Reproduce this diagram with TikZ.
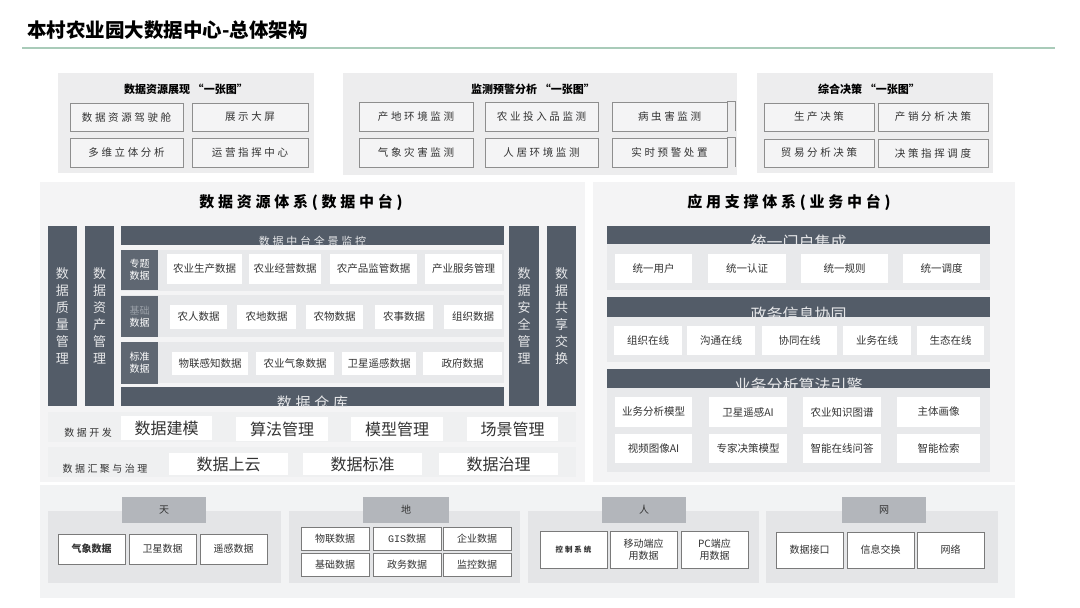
\documentclass[tikz,border=0pt]{standalone}
\usepackage{fontspec}
\setmainfont{Noto Sans CJK SC}
\newfontfamily\spaced{Noto Sans CJK SC}[LetterSpace=25]
\newfontfamily\gisfont{Liberation Mono}
\usetikzlibrary{positioning}

\definecolor{paneltop}{HTML}{EDEDEE}
\definecolor{panelmid}{HTML}{F4F4F5}
\definecolor{rowgrey}{HTML}{E8E9EB}
\definecolor{slate}{HTML}{535C68}
\definecolor{tagdark}{HTML}{5F6772}
\definecolor{edgegrey}{HTML}{8E8E8E}
\definecolor{srcedge}{HTML}{7A7A7A}
\definecolor{tabgrey}{HTML}{B3B6BB}
\definecolor{subgrey}{HTML}{E4E5E7}
\definecolor{basegrey}{HTML}{F2F3F4}
\definecolor{textdark}{HTML}{333333}
\definecolor{bartext}{HTML}{E6E7E9}
\definecolor{tagfade}{HTML}{9AA0A8}
\definecolor{rulegreen}{HTML}{A9CBB9}

\begin{document}
\begin{tikzpicture}[
    x=1pt, y=-1pt,
    outline/.style={draw=edgegrey, line width=0.8pt, fill=paneltop!60!white, inner sep=0, text=textdark, font=\spaced\fontsize{10.5}{12}\selectfont},
    cell/.style={fill=white, draw=none, inner sep=0, text=textdark, align=center, font=\fontsize{10.5}{12}\selectfont},
    bigcell/.style={cell, font=\fontsize{16}{18}\selectfont},
    darkbar/.style={fill=slate, draw=none, inner sep=0},
    tag/.style={fill=tagdark, text=white, inner sep=0, align=center, font=\fontsize{10}{12}\selectfont},
    pillar/.style={fill=slate, text=bartext, inner sep=0, align=center, font=\fontsize{13}{17}\selectfont},
    tab/.style={fill=tabgrey, inner sep=0, text=textdark, font=\fontsize{10}{12}\selectfont},
    source/.style={fill=white, draw=srcedge, line width=0.8pt, inner sep=0, align=center, text=textdark, font=\fontsize{10}{12}\selectfont},
    heading/.style={inner sep=0, text=black, font=\bfseries\fontsize{11}{13}\selectfont},
    subtitle/.style={inner sep=0, text=black, font=\spaced\bfseries\fontsize{15}{18}\selectfont},
    bartitle/.style={inner sep=0, text=bartext, font=\fontsize{16}{18}\selectfont},
    rowlabel/.style={inner sep=0, text=textdark, font=\spaced\fontsize{10}{12}\selectfont}
]
\useasboundingbox (0,0) rectangle (1080,608);
\fill[white] (0,0) rectangle (1080,608);

% title
\node[anchor=west, inner sep=0, font=\bfseries\fontsize{19.5}{22}\selectfont] (maintitle) at (27,30) {本村农业园大数据中心-总体架构};
\draw[rulegreen, line width=1.2pt] (22,48) -- (1055,48);

% top row: three "one map" panels
\fill[paneltop] (58,73) rectangle (314,173);
\node[heading] (showtitle) at (186,89) {数据资源展现 “一张图”};
\node[outline, minimum width=113, minimum height=28] (cockpit) at (126.5,117) {数据资源驾驶舱};
\node[outline, minimum width=116, minimum height=28] (bigscreen) at (250,117) {展示大屏};
\node[outline, minimum width=113, minimum height=29] (multidim) at (126.5,152.5) {多维立体分析};
\node[outline, minimum width=116, minimum height=29] (command) at (250,152.5) {运营指挥中心};

\fill[paneltop] (343,73) rectangle (737,175);
\node[heading] (monitortitle) at (533,89) {监测预警分析 “一张图”};
\node[outline, minimum width=114, minimum height=29] (origin) at (416,116.5) {产地环境监测};
\node[outline, minimum width=113, minimum height=29] (inputs) at (541.5,116.5) {农业投入品监测};
\node[outline, minimum width=115, minimum height=29] (pests) at (669.5,116.5) {病虫害监测};
\node[outline, minimum width=114, minimum height=29] (weather) at (416,152.5) {气象灾害监测};
\node[outline, minimum width=113, minimum height=29] (living) at (541.5,152.5) {人居环境监测};
\node[outline, minimum width=115, minimum height=29] (alarm) at (669.5,152.5) {实时预警处置};
\draw[edgegrey, line width=0.8pt] (pests.north east) -- ++(8,0) -- ++(0,29);
\draw[edgegrey, line width=0.8pt] (alarm.north east) -- ++(8,0) -- ++(0,29);

\fill[paneltop] (757,73) rectangle (993,173);
\node[heading] (decisiontitle) at (869,89) {综合决策 “一张图”};
\node[outline, minimum width=110, minimum height=28] (produce) at (819,117) {生产决策};
\node[outline, minimum width=110, minimum height=28] (sales) at (933,117) {产销分析决策};
\node[outline, minimum width=110, minimum height=28] (trade) at (819,153) {贸易分析决策};
\node[outline, minimum width=110, minimum height=28] (dispatch) at (933,153) {决策指挥调度};

% data middle platform
\fill[panelmid] (40,182) rectangle (585,482);
\node[subtitle] (datatitle) at (301,202) {数据资源体系(数据中台)};
\node[pillar, minimum width=29, minimum height=180] (quality) at (62.5,316) {数\\据\\质\\量\\管\\理};
\node[pillar, minimum width=29, minimum height=180] (assets) at (99.5,316) {数\\据\\资\\产\\管\\理};
\node[pillar, minimum width=30, minimum height=180] (security) at (524,316) {数\\据\\安\\全\\管\\理};
\node[pillar, minimum width=29, minimum height=180] (sharing) at (561.5,316) {数\\据\\共\\享\\交\\换};

\node[darkbar, minimum width=383, minimum height=19] (overview) at (312.5,235.5) {};
\begin{scope}
  \clip (overview.south west) rectangle (overview.north east);
  \node[bartitle, font=\spaced\fontsize{11}{13}\selectfont] (overviewtext) at (312.5,241) {数据中台全景监控};
\end{scope}

\fill[rowgrey] (121,250) rectangle (504,291);
\node[tag, minimum width=37, minimum height=40] (topic) at (139.5,270) {专题\\数据};
\node[cell, minimum width=75, minimum height=30] (agriprod) at (204.5,269) {农业生产数据};
\node[cell, minimum width=72, minimum height=30] (agrimgmt) at (285,269) {农业经营数据};
\node[cell, minimum width=87, minimum height=30] (agrisuper) at (373.5,269) {农产品监管数据};
\node[cell, minimum width=77, minimum height=30] (service) at (463.5,269) {产业服务管理};

\fill[rowgrey] (121,295) rectangle (504,337);
\node[tag, minimum width=37, minimum height=41] (basic) at (139.5,316.5) {{\color{tagfade}基础}\\数据};
\node[cell, minimum width=57, minimum height=24] (farmer) at (198.5,317) {农人数据};
\node[cell, minimum width=59, minimum height=24] (land) at (266.5,317) {农地数据};
\node[cell, minimum width=57, minimum height=24] (crop) at (334.5,317) {农物数据};
\node[cell, minimum width=58, minimum height=24] (farming) at (404,317) {农事数据};
\node[cell, minimum width=58, minimum height=24] (organ) at (473,317) {组织数据};

\fill[rowgrey] (121,342) rectangle (504,383);
\node[tag, minimum width=37, minimum height=42] (standard) at (139.5,363) {标准\\数据};
\node[cell, minimum width=76, minimum height=23] (iot) at (210,363.5) {物联感知数据};
\node[cell, minimum width=78, minimum height=23] (agriwx) at (295,363.5) {农业气象数据};
\node[cell, minimum width=74, minimum height=23] (satellite) at (379,363.5) {卫星遥感数据};
\node[cell, minimum width=79, minimum height=23] (gov) at (462.5,363.5) {政府数据};

\node[darkbar, minimum width=383, minimum height=19] (warehouse) at (312.5,396.5) {};
\begin{scope}
  \clip (warehouse.south west) rectangle (warehouse.north east);
  \node[bartitle, font=\spaced\fontsize{15}{18}\selectfont] (warehousetext) at (312.5,403) {数据仓库};
\end{scope}

\fill[rowgrey!70!white] (48,412) rectangle (576,442);
\node[rowlabel] (devlabel) at (88,433) {数据开发};
\node[bigcell, minimum width=91, minimum height=24] (modeling) at (166.5,428) {数据建模};
\node[bigcell, minimum width=92, minimum height=24] (algo) at (282,429) {算法管理};
\node[bigcell, minimum width=92, minimum height=24] (models) at (397,429) {模型管理};
\node[bigcell, minimum width=91, minimum height=24] (scenes) at (512.5,429) {场景管理};

\fill[rowgrey!70!white] (48,447) rectangle (576,477);
\node[rowlabel] (govlabel) at (105,469) {数据汇聚与治理};
\node[bigcell, minimum width=119, minimum height=22] (cloud) at (228.5,464) {数据上云};
\node[bigcell, minimum width=119, minimum height=22] (norm) at (362.5,464) {数据标准};
\node[bigcell, minimum width=119, minimum height=22] (govern) at (498.5,464) {数据治理};

% application support platform
\fill[panelmid] (593,182) rectangle (1015,482);
\node[subtitle] (apptitle) at (789,202) {应用支撑体系(业务中台)};

\node[darkbar, minimum width=383, minimum height=18] (portal) at (798.5,235) {};
\begin{scope}
  \clip (portal.south west) rectangle (portal.north east);
  \node[bartitle] (portaltext) at (798.5,242) {统一门户集成};
\end{scope}
\fill[rowgrey] (607,244) rectangle (990,290);
\node[cell, minimum width=77, minimum height=29] (users) at (653.5,268.5) {统一用户};
\node[cell, minimum width=78, minimum height=29] (auth) at (747,268.5) {统一认证};
\node[cell, minimum width=87, minimum height=29] (rules) at (844.5,268.5) {统一规则};
\node[cell, minimum width=77, minimum height=29] (schedule) at (941.5,268.5) {统一调度};

\node[darkbar, minimum width=383, minimum height=20] (collab) at (798.5,307) {};
\begin{scope}
  \clip (collab.south west) rectangle (collab.north east);
  \node[bartitle] (collabtext) at (798.5,314) {政务信息协同};
\end{scope}
\fill[rowgrey] (607,317) rectangle (990,362);
\node[cell, minimum width=68, minimum height=29] (orgonline) at (648,340.5) {组织在线};
\node[cell, minimum width=68, minimum height=29] (talkonline) at (721,340.5) {沟通在线};
\node[cell, minimum width=75, minimum height=29] (coonline) at (799.5,340.5) {协同在线};
\node[cell, minimum width=68, minimum height=29] (bizonline) at (877,340.5) {业务在线};
\node[cell, minimum width=67, minimum height=29] (ecoonline) at (950.5,340.5) {生态在线};

\node[darkbar, minimum width=383, minimum height=19] (engine) at (798.5,378.5) {};
\begin{scope}
  \clip (engine.south west) rectangle (engine.north east);
  \node[bartitle] (enginetext) at (798.5,385) {业务分析算法引擎};
\end{scope}
\fill[rowgrey] (607,388) rectangle (990,472);
\node[cell, minimum width=77, minimum height=30] (bizmodel) at (653.5,412) {业务分析模型};
\node[cell, minimum width=78, minimum height=30] (satai) at (748,412) {卫星遥感AI};
\node[cell, minimum width=78, minimum height=30] (kgraph) at (842,412) {农业知识图谱};
\node[cell, minimum width=83, minimum height=30] (profile) at (938.5,412) {主体画像};
\node[cell, minimum width=77, minimum height=29] (videoai) at (653.5,448.5) {视频图像AI};
\node[cell, minimum width=78, minimum height=29] (expert) at (748,448.5) {专家决策模型};
\node[cell, minimum width=78, minimum height=29] (qa) at (842,448.5) {智能在线问答};
\node[cell, minimum width=83, minimum height=29] (search) at (938.5,448.5) {智能检索};

% sources: sky, ground, people, network
\fill[basegrey] (40,485) rectangle (1015,598);
\fill[subgrey] (48,511) rectangle (281,583);
\fill[subgrey] (289,511) rectangle (520,583);
\fill[subgrey] (528,511) rectangle (759,583);
\fill[subgrey] (766,511) rectangle (998,583);

\node[tab, minimum width=84, minimum height=26] (sky) at (164,510) {天};
\node[tab, minimum width=86, minimum height=26] (ground) at (406,510) {地};
\node[tab, minimum width=84, minimum height=26] (people) at (644,510) {人};
\node[tab, minimum width=84, minimum height=26] (network) at (884,510) {网};

\node[source, minimum width=67, minimum height=30, font=\bfseries\fontsize{10}{12}\selectfont] (meteo) at (91.5,549) {气象数据};
\node[source, minimum width=67, minimum height=30] (satdata) at (162.5,549) {卫星数据};
\node[source, minimum width=67, minimum height=30] (remote) at (233.5,549) {遥感数据};

\node[source, minimum width=68, minimum height=23] (iotdata) at (335,538.5) {物联数据};
\node[source, minimum width=68, minimum height=23] (gisdata) at (407,538.5) {{\gisfont GIS}数据};
\node[source, minimum width=68, minimum height=23] (bizdata) at (477,538.5) {企业数据};
\node[source, minimum width=68, minimum height=23] (basedata) at (335,564.5) {基础数据};
\node[source, minimum width=68, minimum height=23] (govdata) at (407,564.5) {政务数据};
\node[source, minimum width=68, minimum height=23] (camdata) at (477,564.5) {监控数据};

\node[source, minimum width=67, minimum height=37, font=\spaced\bfseries\fontsize{7.5}{9}\selectfont] (control) at (573.5,549.5) {控制系统};
\node[source, minimum width=67, minimum height=37, font=\fontsize{10}{12.5}\selectfont] (mobile) at (643.5,549.5) {移动端应\\用数据};
\node[source, minimum width=67, minimum height=37, font=\fontsize{10}{12.5}\selectfont] (pcdata) at (714.5,549.5) {PC端应\\用数据};

\node[source, minimum width=67, minimum height=36] (api) at (809.5,550) {数据接口};
\node[source, minimum width=67, minimum height=36] (exchange) at (880.5,550) {信息交换};
\node[source, minimum width=67, minimum height=36] (net) at (950.5,550) {网络};

\end{tikzpicture}
\end{document}
